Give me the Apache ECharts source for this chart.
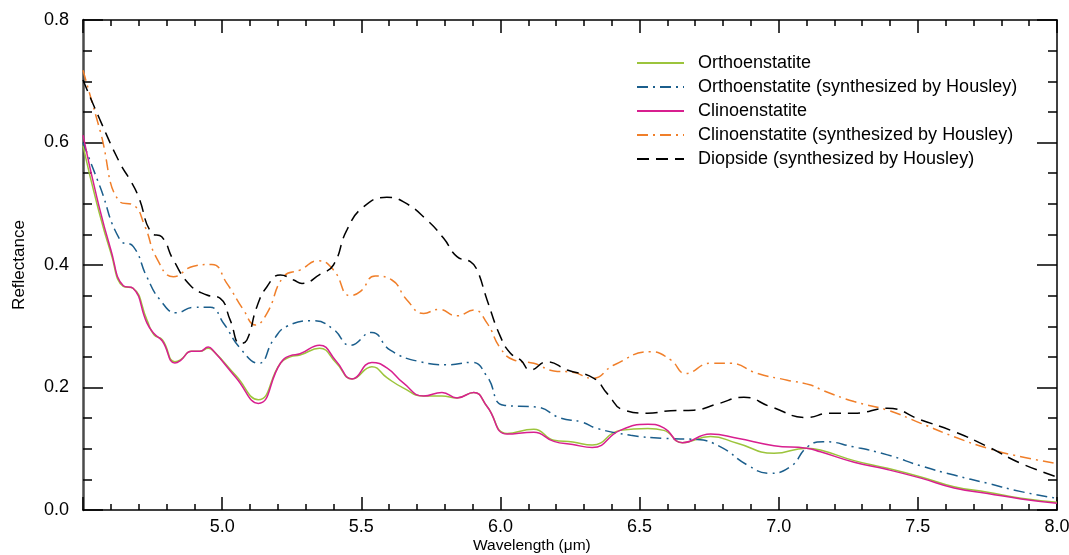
<!DOCTYPE html>
<html><head><meta charset="utf-8">
<script src="https://cdn.jsdelivr.net/npm/echarts@6/dist/echarts.min.js"></script>
<style>html,body{margin:0;padding:0;background:#fff}#c{width:1069px;height:555px}</style>
</head><body><div id="c"></div>
<script>
// ---- data (wavelength in µm, reflectance) ----
const wlEnst = [4.50,4.55,4.60,4.645,4.68,4.73,4.755,4.785,4.83,4.85,4.89,4.92,4.95,4.97,5.05,5.13,5.21,5.245,5.28,5.35,5.41,5.467,5.538,5.592,5.652,5.724,5.79,5.844,5.904,5.952,6.024,6.12,6.192,6.26,6.33,6.43,6.53,6.587,6.654,6.755,6.851,6.983,7.10,7.15,7.271,7.391,7.511,7.63,7.751,7.871,8.0];
const orthoenstatite = [0.595,0.50,0.42,0.365,0.362,0.31,0.286,0.278,0.242,0.245,0.259,0.259,0.264,0.259,0.219,0.180,0.240,0.250,0.253,0.264,0.240,0.214,0.234,0.216,0.199,0.186,0.186,0.183,0.192,0.169,0.125,0.132,0.114,0.111,0.106,0.130,0.133,0.130,0.110,0.120,0.109,0.0925,0.101,0.098,0.0806,0.068,0.054,0.038,0.029,0.019,0.0125];
const clinoenstatite = [0.612,0.51,0.425,0.366,0.362,0.305,0.288,0.276,0.240,0.244,0.259,0.259,0.266,0.259,0.216,0.174,0.240,0.252,0.255,0.269,0.243,0.214,0.241,0.232,0.207,0.186,0.192,0.183,0.192,0.169,0.124,0.127,0.112,0.107,0.102,0.130,0.140,0.134,0.110,0.124,0.117,0.105,0.101,0.095,0.078,0.066,0.052,0.036,0.027,0.018,0.011];

const wlOrthoSyn = [4.50,4.561,4.633,4.681,4.729,4.777,4.837,4.897,4.957,5.005,5.065,5.131,5.185,5.233,5.33,5.40,5.46,5.538,5.604,5.712,5.808,5.898,5.952,6.012,6.132,6.216,6.29,6.348,6.468,6.588,6.707,6.791,6.887,6.965,7.043,7.103,7.16,7.27,7.391,7.511,7.63,7.751,7.871,8.0];
const orthoSynth = [0.60,0.528,0.441,0.430,0.381,0.343,0.322,0.331,0.331,0.305,0.264,0.2395,0.278,0.300,0.309,0.295,0.269,0.290,0.261,0.242,0.237,0.241,0.218,0.171,0.168,0.150,0.144,0.133,0.122,0.117,0.115,0.103,0.0735,0.060,0.071,0.103,0.1116,0.103,0.090,0.072,0.057,0.0435,0.030,0.019];

const wlClinoSyn = [4.50,4.561,4.633,4.681,4.723,4.765,4.825,4.897,4.963,5.017,5.077,5.119,5.161,5.221,5.281,5.345,5.40,5.46,5.496,5.55,5.61,5.664,5.724,5.778,5.844,5.904,5.952,6.0,6.048,6.12,6.192,6.26,6.33,6.408,6.54,6.612,6.665,6.755,6.827,6.923,7.031,7.115,7.16,7.271,7.391,7.511,7.63,7.751,7.871,8.0];
const clinoSynth = [0.718,0.620,0.503,0.498,0.4625,0.411,0.381,0.398,0.401,0.370,0.3265,0.302,0.321,0.381,0.392,0.407,0.392,0.350,0.3565,0.382,0.3755,0.343,0.321,0.3276,0.317,0.3265,0.305,0.264,0.245,0.2395,0.227,0.225,0.215,0.2367,0.2585,0.245,0.223,0.2395,0.2395,0.223,0.212,0.204,0.195,0.177,0.163,0.1415,0.1197,0.1007,0.087,0.076];

const wlDiop = [4.50,4.561,4.633,4.669,4.699,4.747,4.783,4.825,4.885,4.945,4.993,5.029,5.065,5.089,5.125,5.161,5.209,5.257,5.287,5.353,5.40,5.448,5.508,5.592,5.652,5.736,5.796,5.844,5.892,5.916,5.952,6.0,6.036,6.072,6.108,6.168,6.24,6.336,6.384,6.444,6.528,6.612,6.695,6.779,6.875,6.971,7.103,7.18,7.271,7.391,7.511,7.63,7.751,7.871,8.0];
const diopside = [0.702,0.637,0.566,0.539,0.512,0.452,0.446,0.408,0.367,0.351,0.3456,0.310,0.272,0.2776,0.332,0.3646,0.3837,0.3755,0.370,0.385,0.400,0.457,0.495,0.5105,0.503,0.4735,0.4436,0.4136,0.4055,0.392,0.343,0.283,0.256,0.245,0.2286,0.242,0.2286,0.215,0.190,0.163,0.158,0.162,0.163,0.173,0.184,0.1687,0.151,0.158,0.158,0.166,0.147,0.128,0.1034,0.076,0.054];

const seriesNames = ['Orthoenstatite','Orthoenstatite (synthesized by Housley)','Clinoenstatite','Clinoenstatite (synthesized by Housley)','Diopside (synthesized by Housley)'];
const xTitle = 'Wavelength (μm)';
const yTitle = 'Reflectance';

// ---- chart ----
const FONT = '"Liberation Sans", Arial, Helvetica, sans-serif';
function pairs(xs, ys){ return xs.map((x,i)=>[x, ys[i]]); }
const chart = echarts.init(document.getElementById('c'));

function xAx(pos, labels){
  return {
    type:'value', position:pos, min:4.5, max:8.0, interval:0.5,
    axisLine:{show:true, onZero:false, lineStyle:{color:'#000', width:1.5}},
    axisTick:{show:true, inside:true, length:13, lineStyle:{color:'#000', width:1.5}},
    minorTick:{show:true, splitNumber:5, length:6, lineStyle:{color:'#000', width:1.5}},
    splitLine:{show:false}, minorSplitLine:{show:false},
    axisLabel:{show:labels, fontSize:18, fontFamily:FONT, color:'#000', margin:8,
      formatter:v => Math.abs(v-4.5)<1e-9 ? '' : v.toFixed(1)}
  };
}
function yAx(pos, labels, lineColor, lineWidth){
  return {
    type:'value', position:pos, min:0, max:0.8, interval:0.2,
    axisLine:{show:true, onZero:false, lineStyle:{color:lineColor, width:lineWidth}},
    axisTick:{show:true, inside:true, length:20, lineStyle:{color:'#000', width:1.5}},
    minorTick:{show:true, splitNumber:4, length:9, lineStyle:{color:'#000', width:1.5}},
    splitLine:{show:false}, minorSplitLine:{show:false},
    axisLabel:{show:labels, fontSize:18, fontFamily:FONT, color:'#000', margin:14,
      formatter:v => v.toFixed(1)},
    name: labels ? yTitle : '', nameLocation:'middle', nameGap:55,
    nameTextStyle:{fontSize:17, fontFamily:FONT, color:'#000'}
  };
}
function line(name, xs, ys, color, type){
  return {
    name, type:'line', data:pairs(xs, ys), smooth:0.5, symbol:'none', showSymbol:false,
    lineStyle:{color, width:1.5, type}, itemStyle:{color}, animation:false
  };
}

chart.setOption({
  animation:false,
  backgroundColor:'#fff',
  grid:{left:83, right:12, top:20, bottom:45, containLabel:false, outerBoundsMode:'none'},
  xAxis:[xAx('bottom', true), xAx('top', false)],
  yAxis:[yAx('left', true, '#4a4a4a', 2.5), yAx('right', false, '#000', 1.5)],
  legend:{
    data:seriesNames, orient:'vertical', left:636, top:54, padding:0,
    itemWidth:47, itemHeight:14, itemGap:6,
    itemStyle:{opacity:0},
    textStyle:{fontSize:18, fontFamily:FONT, color:'#000', padding:[0,0,0,9]}
  },
  graphic:[{type:'text', left:473, top:538, style:{text:xTitle, font:'15.5px '+FONT, fill:'#000'}}],
  series:[
    line(seriesNames[0], wlEnst, orthoenstatite, '#9cc43c', 'solid'),
    line(seriesNames[1], wlOrthoSyn, orthoSynth, '#1b5e8c', [11,5,2,5]),
    line(seriesNames[2], wlEnst, clinoenstatite, '#d81f8f', 'solid'),
    line(seriesNames[3], wlClinoSyn, clinoSynth, '#f07f2a', [11,5,2,5]),
    line(seriesNames[4], wlDiop, diopside, '#000000', [12,7])
  ]
});
</script></body></html>
